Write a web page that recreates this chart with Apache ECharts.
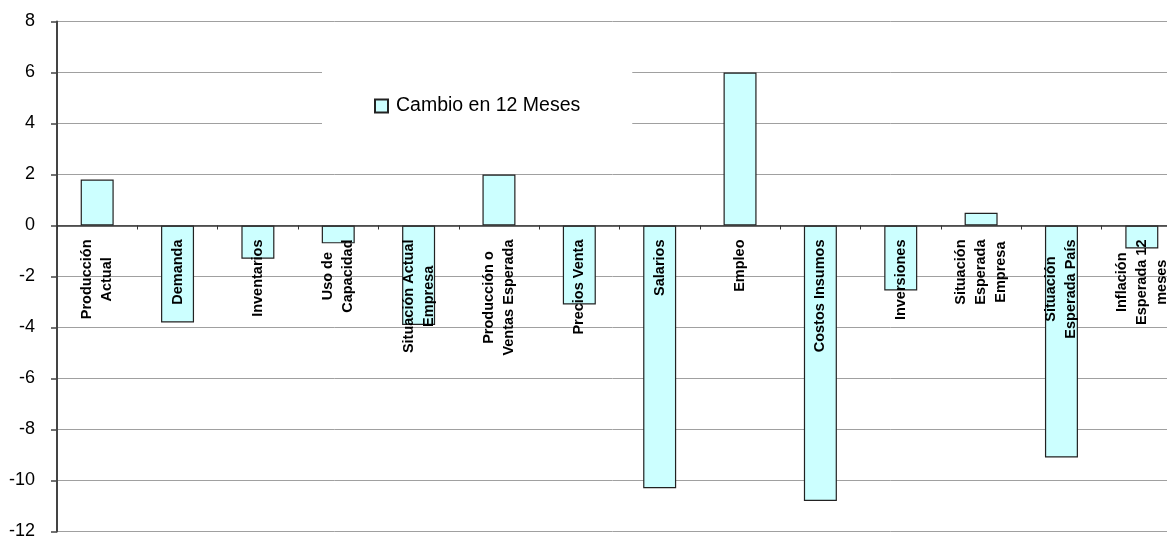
<!DOCTYPE html>
<html>
<head>
<meta charset="utf-8">
<script src="https://cdn.jsdelivr.net/npm/echarts@6/dist/echarts.min.js"></script>
<style>
html,body{margin:0;padding:0;background:#fff;}
#chart{width:1167px;height:539px;}
</style>
</head>
<body>
<div id="chart"></div>
<script>
const categories = [
  "Producción\nActual",
  "Demanda",
  "Inventarios",
  "Uso de\nCapacidad",
  "Situación Actual\nEmpresa",
  "Producción o\nVentas Esperada",
  "Precios Venta",
  "Salarios",
  "Empleo",
  "Costos Insumos",
  "Inversiones",
  "Situación\nEsperada\nEmpresa",
  "Situación\nEsperada País",
  "Inflación\nEsperada 12\nmeses"
];
const seriesName = "Cambio en 12 Meses";
const values = [1.8, -3.8, -1.3, -0.7, -3.9, 2.0, -3.1, -10.3, 6.0, -10.8, -2.55, 0.5, -9.1, -0.9];
const yMin = -12, yMax = 8, yStep = 2;

const FONT = "Liberation Sans, Arial, sans-serif";
const chart = echarts.init(document.getElementById('chart'), null, {renderer: 'canvas'});
chart.setOption({
  animation: false,
  backgroundColor: '#ffffff',
  grid: {left: 57, right: -15, top: 21.5, bottom: 7.5, containLabel: false, outerBoundsMode: 'none'},
  legend: {
    show: true,
    z: 10,
    left: 322, top: 69,
    padding: [27, 52, 12, 52],
    backgroundColor: '#ffffff',
    itemWidth: 13, itemHeight: 13, itemGap: 8,
    icon: 'rect',
    textStyle: {fontFamily: FONT, fontSize: 19.5, color: '#000', padding: [0, 0, 0, 3]},
    data: [seriesName]
  },
  xAxis: {
    type: 'category',
    position: 'bottom',
    data: categories,
    boundaryGap: true,
    offset: 0,
    z: 5,
    axisLine: {show: true, onZero: false, lineStyle: {color: '#333', width: 1.5}},
    axisTick: {show: true, alignWithLabel: false, length: 4, lineStyle: {color: '#333'}},
    splitLine: {show: false},
    axisLabel: {
      show: true,
      interval: 0,
      rotate: 90,
      margin: 14,
      formatter: function (v) { return v.split('\n').map(function (l) { return '{c|' + l + '}'; }).join('\n'); },
      rich: {
        c: {align: 'center', fontFamily: FONT, fontSize: 14.5, fontWeight: 'bold', color: '#000', lineHeight: 20}
      }
    }
  },
  yAxis: {
    type: 'value',
    min: yMin, max: yMax, interval: yStep,
    axisLine: {show: true, lineStyle: {color: '#444', width: 2}},
    axisTick: {show: true, length: 6, lineStyle: {color: '#444', width: 1.5}},
    splitLine: {show: true, lineStyle: {color: '#a0a0a0', width: 1}},
    axisLabel: {fontFamily: FONT, fontSize: 18, color: '#000', margin: 22}
  },
  series: [{
    name: seriesName,
    type: 'bar',
    data: values,
    barWidth: 33,
    z: 2,
    itemStyle: {color: '#ccffff', borderColor: '#222', borderWidth: 1.2}
  }]
});
// place the category axis on the zero line using the value axis' own scale
const zeroY = chart.convertToPixel({yAxisIndex: 0}, 0);
const bottomY = chart.convertToPixel({yAxisIndex: 0}, yMin);
chart.setOption({xAxis: {offset: zeroY - bottomY}});
</script>
</body>
</html>
